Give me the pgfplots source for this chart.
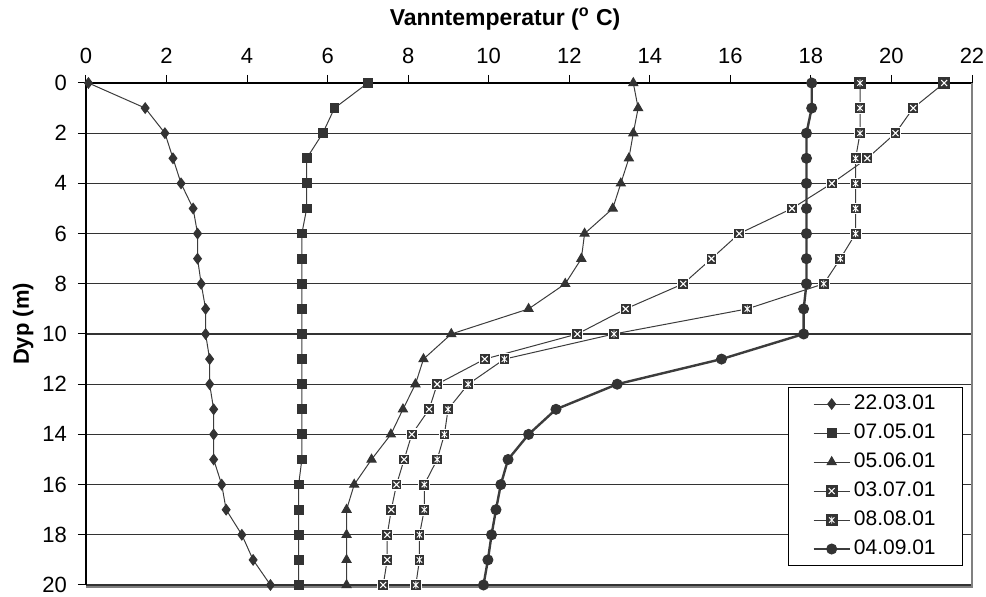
\documentclass[border=0pt]{standalone}
\usepackage{fontspec}
\setmainfont{Liberation Sans}
\usepackage{pgfplots}
\pgfplotsset{compat=1.18}
\usepackage{pgfplotstable}

\definecolor{mk}{HTML}{333333}
\definecolor{ln}{HTML}{3C3C3C}

% dark square with a white cross
\pgfdeclareplotmark{sqx}{%
  \pgfpathrectangle{\pgfqpoint{-\pgfplotmarksize}{-\pgfplotmarksize}}{\pgfqpoint{2\pgfplotmarksize}{2\pgfplotmarksize}}%
  \pgfusepathqfillstroke
  \pgfsetstrokecolor{white}\pgfsetlinewidth{0.55pt}%
  \pgfpathmoveto{\pgfqpoint{-0.55\pgfplotmarksize}{-0.55\pgfplotmarksize}}%
  \pgfpathlineto{\pgfqpoint{0.55\pgfplotmarksize}{0.55\pgfplotmarksize}}%
  \pgfpathmoveto{\pgfqpoint{-0.55\pgfplotmarksize}{0.55\pgfplotmarksize}}%
  \pgfpathlineto{\pgfqpoint{0.55\pgfplotmarksize}{-0.55\pgfplotmarksize}}%
  \pgfusepathqstroke
}
% dark square with a white asterisk
\pgfdeclareplotmark{sqstar}{%
  \pgfpathrectangle{\pgfqpoint{-\pgfplotmarksize}{-\pgfplotmarksize}}{\pgfqpoint{2\pgfplotmarksize}{2\pgfplotmarksize}}%
  \pgfusepathqfillstroke
  \pgfsetstrokecolor{white}\pgfsetlinewidth{0.45pt}%
  \pgfpathmoveto{\pgfqpoint{-0.5\pgfplotmarksize}{-0.5\pgfplotmarksize}}%
  \pgfpathlineto{\pgfqpoint{0.5\pgfplotmarksize}{0.5\pgfplotmarksize}}%
  \pgfpathmoveto{\pgfqpoint{-0.5\pgfplotmarksize}{0.5\pgfplotmarksize}}%
  \pgfpathlineto{\pgfqpoint{0.5\pgfplotmarksize}{-0.5\pgfplotmarksize}}%
  \pgfpathmoveto{\pgfqpoint{0pt}{-0.65\pgfplotmarksize}}%
  \pgfpathlineto{\pgfqpoint{0pt}{0.65\pgfplotmarksize}}%
  \pgfusepathqstroke
}

% depth (m) and water temperature for each sampling date
\pgfplotstableread{
d  s1   s2   s3    s4    s5    s6
0  0.06 7.00 13.59 21.31 19.22 18.02
1  1.47 6.17 13.71 20.54 19.22 18.02
2  1.96 5.88 13.59 20.10 19.22 17.89
3  2.16 5.48 13.48 19.40 19.11 17.89
4  2.36 5.48 13.28 18.52 19.11 17.89
5  2.66 5.48 13.08 17.53 19.11 17.89
6  2.77 5.36 12.38 16.22 19.11 17.89
7  2.77 5.36 12.30 15.53 18.73 17.89
8  2.86 5.36 11.90 14.83 18.32 17.89
9  2.97 5.36 10.99 13.40 16.42 17.82
10 2.97 5.36 9.07  12.20 13.11 17.82
11 3.07 5.36 8.38  9.90  10.39 15.78
12 3.07 5.36 8.18  8.72  9.49  13.19
13 3.17 5.36 7.87  8.52  8.99  11.67
14 3.17 5.36 7.57  8.09  8.90  10.99
15 3.17 5.36 7.09  7.90  8.72  10.48
16 3.37 5.28 6.66  7.71  8.40  10.30
17 3.48 5.28 6.47  7.58  8.40  10.18
18 3.87 5.28 6.47  7.48  8.28  10.07
19 4.15 5.28 6.47  7.48  8.28  9.98
20 4.58 5.28 6.47  7.38  8.19  9.87
}\temps

\begin{document}
\begin{tikzpicture}
\useasboundingbox (-43pt,-6pt) rectangle (450pt,292.5pt);
\begin{axis}[
  at={(0,0)}, anchor=south west,
  scale only axis, width=443pt, height=251pt,
  xmin=0, xmax=22, ymin=0, ymax=20, y dir=reverse,
  xtick={0,2,...,22}, ytick={0,2,...,20},
  xtick pos=right, xticklabel pos=right, ytick pos=left,
  tick align=outside, major tick length=4pt,
  tick style={black, line width=0.5pt},
  ymajorgrids, grid style={black!80, line width=0.65pt},
  axis line style={draw=none},
  ticklabel style={font=\fontsize{11}{13}\selectfont},
  /pgf/number format/assume math mode=true,
  xticklabel style={yshift=2pt},
  yticklabel style={xshift=-2pt},
  xlabel={Vanntemperatur (\textsuperscript{o} C)},
  xlabel style={at={(axis description cs:0.473,1.128)}, anchor=center,
    font=\bfseries\fontsize{11.5}{13}\selectfont},
  ylabel={Dyp (m)},
  ylabel style={at={(axis description cs:-0.071,0.52)}, anchor=center,
    font=\bfseries\fontsize{11}{13}\selectfont},
  clip=false,
  legend image code/.code={\draw[mark repeat=2,mark phase=2,#1]
    plot coordinates {(0pt,0pt) (9pt,0pt) (18pt,0pt)};},
  legend cell align=left,
  legend style={at={(axis description cs:0.99,0.0378)}, anchor=south east,
    draw=black, line width=0.5pt, fill=white,
    inner xsep=12pt, inner ysep=1pt,
    font=\fontsize{10.5}{12}\selectfont,
    nodes={inner xsep=1.5pt, inner ysep=2.5pt, text height=7.5pt, text depth=2pt}},
]
\addplot[ln, line width=0.5pt, mark=diamond*, mark size=2.6pt,
  mark options={fill=mk, draw=mk}] table[x=s1, y=d] {\temps};
\addlegendentry{22.03.01}
\addplot[ln, line width=0.5pt, mark=square*, mark size=2.2pt,
  mark options={fill=mk, draw=mk}] table[x=s2, y=d] {\temps};
\addlegendentry{07.05.01}
\addplot[ln, line width=0.5pt, mark=triangle*, mark size=2.6pt,
  mark options={fill=mk, draw=mk}] table[x=s3, y=d] {\temps};
\addlegendentry{05.06.01}
\addplot[ln, line width=0.5pt, mark=sqx, mark size=2.7pt,
  mark options={fill=mk, draw=mk}] table[x=s4, y=d] {\temps};
\addlegendentry{03.07.01}
\addplot[ln, line width=0.5pt, mark=sqstar, mark size=2.7pt,
  mark options={fill=mk, draw=mk}] table[x=s5, y=d] {\temps};
\addlegendentry{08.08.01}
\addplot[ln, line width=1.2pt, mark=*, mark size=2.5pt,
  mark options={fill=mk, draw=mk, line width=0.5pt}] table[x=s6, y=d] {\temps};
\addlegendentry{04.09.01}
\draw[black, line width=0.6pt] (axis cs:0,20) -- (axis cs:0,0) -- (axis cs:22,0);
\draw[gray, line width=0.6pt] (axis cs:22,0) -- (axis cs:22,20.08) -- (axis cs:0,20.08);
\end{axis}
\end{tikzpicture}
\end{document}
